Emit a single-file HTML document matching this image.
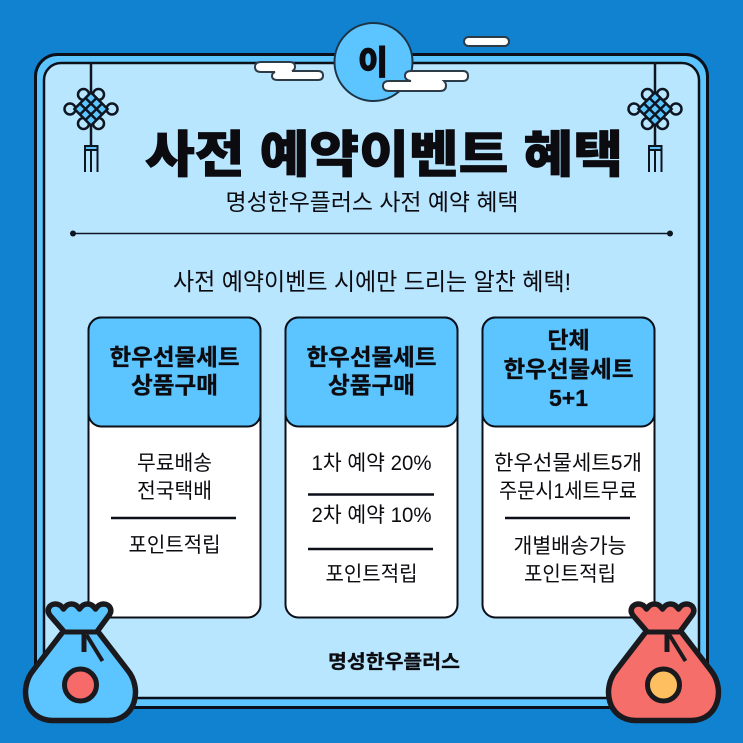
<!DOCTYPE html>
<html lang="ko"><head><meta charset="utf-8"><style>
html,body{margin:0;padding:0;background:#1182cf}
svg{display:block}
text{font-family:"Liberation Sans","Noto Sans CJK KR",sans-serif;fill:#0b0b10;text-anchor:middle}
.h{font-weight:700;font-size:23px;stroke:#0b0b10;stroke-width:.3px}
.b{font-weight:400;font-size:21px}
</style></head><body>
<svg width="743" height="743" viewBox="0 0 743 743" xmlns="http://www.w3.org/2000/svg">
<defs>
<g id="knot">
<path d="M0 -47V37" stroke="#0d1520" stroke-width="2.500" fill="none"/>
<g fill="#b9e6ff" stroke="#0d1520" stroke-width="2.500">
<circle cx="-7.500" cy="-14.500" r="5.500"/><circle cx="7.500" cy="-14.500" r="5.500"/><circle cx="-7.500" cy="14.500" r="5.500"/><circle cx="7.500" cy="14.500" r="5.500"/>
<circle cx="-21" cy="0" r="5.500"/><circle cx="21" cy="0" r="5.500"/>
<g transform="rotate(45)">
<rect x="-11.700" y="-11.700" width="23.400" height="23.400" fill="#5cc5ff"/>
<path d="M-3.900 -11.700V11.700M3.900 -11.700V11.700M-11.700 -3.900H11.700M-11.700 3.900H11.700" fill="none"/>
</g>
</g>
<rect x="-6" y="37" width="12.500" height="4" fill="#5cc5ff" stroke="#0d1520" stroke-width="2"/>
<path d="M-6 41V63M0 41V63M6.500 41V63" stroke="#0d1520" stroke-width="2" fill="none"/>
</g>
<path id="bag" d="M-17 -47L-30 -62C-35 -68 -31 -74 -25 -74C-21 -74 -19 -72 -17 -69C-14 -73 -12 -74 -9 -74C-6 -74 -4 -73 -1 -69C2 -73 4 -74 7 -74C10 -74 12 -73 15 -69C17 -72 19 -74 23 -74C29 -74 33 -68 28 -62L17 -47L47 -8C62 10 56 42 28 42.500H-28C-56 42 -62 10 -47 -8Z"/>
</defs>
<rect width="743" height="743" fill="#1182cf"/>
<rect x="35.500" y="54.500" width="672" height="653" rx="22" fill="#5cc5ff" stroke="#0a0f18" stroke-width="3"/>
<rect x="44" y="63" width="655" height="635" rx="17" fill="#b9e6ff" stroke="#0a0f18" stroke-width="2.500"/>

<use href="#knot" x="91" y="109"/>
<use href="#knot" x="655" y="109"/>

<path d="M261 62H290Q295 62 295 67Q295 70 292 71H318Q323 71 323 75.500Q323 80 318 80H278Q272 80 272 76Q272 73 275 72H261Q255 72 255 67Q255 62 261 62Z" fill="#fff" stroke="#2d3b47" stroke-width="2"/>
<circle cx="373.500" cy="62" r="39" fill="#5cc5ff" stroke="#1d3446" stroke-width="2"/>
<text x="373" y="74" textLength="30" lengthAdjust="spacingAndGlyphs" style="font-weight:900;font-size:33px;stroke:#0b0b10;stroke-width:.8px">이</text>
<path d="M411 71H463Q468 71 468 76Q468 81 463 81H444Q446 83 446 85.500Q446 91 440 91H389Q383 91 383 86Q383 81 389 81H411Q405 80 405 76Q405 71 411 71Z" fill="#fff" stroke="#2d3b47" stroke-width="2"/>
<rect x="464" y="37" width="45" height="9" rx="4.500" fill="#fff" stroke="#2d3b47" stroke-width="2"/>

<text x="384" y="172" textLength="478" lengthAdjust="spacingAndGlyphs" style="font-weight:900;font-size:50px;stroke:#0b0b10;stroke-width:.8px">사전 예약이벤트 혜택</text>
<text x="372" y="210" textLength="293" lengthAdjust="spacingAndGlyphs" style="font-size:23px">명성한우플러스 사전 예약 혜택</text>
<path d="M73 233.500H670" stroke="#0d1520" stroke-width="1.500"/>
<circle cx="73" cy="233.500" r="3" fill="#0d1520"/><circle cx="670" cy="233.500" r="3" fill="#0d1520"/>
<text x="372" y="290" textLength="398" lengthAdjust="spacingAndGlyphs" style="font-size:24px">사전 예약이벤트 시에만 드리는 알찬 혜택!</text>

<g stroke="#0a0f18" stroke-width="2">
<rect x="88.500" y="317.500" width="172" height="300" rx="13" fill="#fff"/>
<rect x="285.500" y="317.500" width="172" height="300" rx="13" fill="#fff"/>
<rect x="482.500" y="317.500" width="172" height="300" rx="13" fill="#fff"/>
<rect x="88.500" y="317.500" width="172" height="109" rx="13" fill="#5cc5ff"/>
<rect x="285.500" y="317.500" width="172" height="109" rx="13" fill="#5cc5ff"/>
<rect x="482.500" y="317.500" width="172" height="109" rx="13" fill="#5cc5ff"/>
</g>

<text class="h" x="174.500" y="365" textLength="130" lengthAdjust="spacingAndGlyphs">한우선물세트</text>
<text class="h" x="174.500" y="393" textLength="87" lengthAdjust="spacingAndGlyphs">상품구매</text>
<text class="h" x="371.500" y="365" textLength="130" lengthAdjust="spacingAndGlyphs">한우선물세트</text>
<text class="h" x="371.500" y="393" textLength="87" lengthAdjust="spacingAndGlyphs">상품구매</text>
<text class="h" x="568.500" y="348">단체</text>
<text class="h" x="568.500" y="377" textLength="130" lengthAdjust="spacingAndGlyphs">한우선물세트</text>
<text class="h" x="568.500" y="406">5+1</text>

<text class="b" x="174.500" y="470" textLength="75" lengthAdjust="spacingAndGlyphs">무료배송</text>
<text class="b" x="174.500" y="498" textLength="75" lengthAdjust="spacingAndGlyphs">전국택배</text>
<path d="M111 518H236M308 494.500H434M308 549H433M505 518H630" stroke="#0a0f18" stroke-width="2.500"/>
<text class="b" x="174.500" y="552" textLength="92" lengthAdjust="spacingAndGlyphs">포인트적립</text>

<text class="b" x="371.500" y="470" textLength="120" lengthAdjust="spacingAndGlyphs">1차 예약 20%</text>
<text class="b" x="371.500" y="522" textLength="120" lengthAdjust="spacingAndGlyphs">2차 예약 10%</text>
<text class="b" x="371.500" y="581" textLength="92" lengthAdjust="spacingAndGlyphs">포인트적립</text>

<text class="b" x="568" y="470" textLength="148" lengthAdjust="spacingAndGlyphs">한우선물세트5개</text>
<text class="b" x="568" y="498" textLength="138" lengthAdjust="spacingAndGlyphs">주문시1세트무료</text>
<text class="b" x="570" y="553" textLength="113" lengthAdjust="spacingAndGlyphs">개별배송가능</text>
<text class="b" x="570" y="581" textLength="92" lengthAdjust="spacingAndGlyphs">포인트적립</text>

<text x="394" y="668" textLength="132" lengthAdjust="spacingAndGlyphs" style="font-weight:700;font-size:19px;stroke:#0b0b10;stroke-width:.3px">명성한우플러스</text>

<g transform="translate(80.500,678)">
<use href="#bag" fill="#5cc5ff" stroke="#1a1a1e" stroke-width="5.500" stroke-linejoin="round"/>
<path d="M-18 -46H18" stroke="#1a1a1e" stroke-width="5"/>
<path d="M3.500 -46V-26" stroke="#1a1a1e" stroke-width="5"/>
<path d="M6 -43L22 -17" stroke="#1a1a1e" stroke-width="4"/>
<circle cx="0" cy="7" r="16" fill="#f66a6a" stroke="#1a1a1e" stroke-width="5"/>
</g>
<g transform="translate(663.500,678)">
<use href="#bag" fill="#f56e6a" stroke="#1a1a1e" stroke-width="5.500" stroke-linejoin="round"/>
<path d="M-18 -46H18" stroke="#1a1a1e" stroke-width="5"/>
<path d="M3.500 -46V-26" stroke="#1a1a1e" stroke-width="5"/>
<path d="M6 -43L22 -17" stroke="#1a1a1e" stroke-width="4"/>
<circle cx="0" cy="7" r="16" fill="#fdbf5f" stroke="#1a1a1e" stroke-width="5"/>
</g>
</svg>
</body></html>
